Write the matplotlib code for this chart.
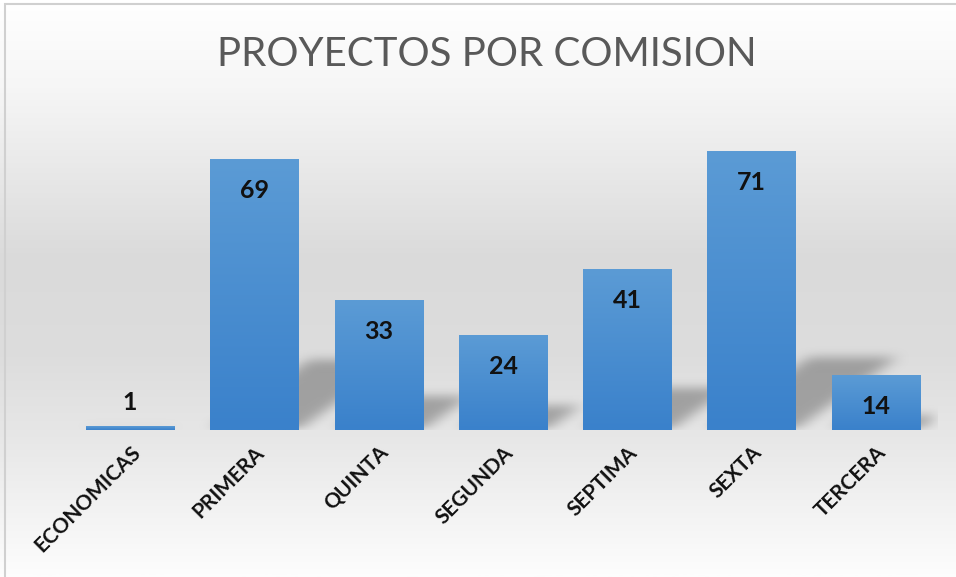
import numpy as np
import matplotlib
matplotlib.use('Agg')
import matplotlib.pyplot as plt
from matplotlib.colors import LinearSegmentedColormap
from matplotlib.patches import Rectangle

# =======================================================================================
# Data
# =======================================================================================

categories = ['ECONOMICAS', 'PRIMERA', 'QUINTA', 'SEGUNDA', 'SEPTIMA', 'SEXTA', 'TERCERA']
values = [1, 69, 33, 24, 41, 71, 14]
title = 'PROYECTOS POR COMISION'

plt.rcParams['font.family'] = ['Lato', 'DejaVu Sans']

W, H = 956, 577
fig = plt.figure(figsize=(W / 100, H / 100), dpi=100)

# =======================================================================================
# Background gradient (whole chart area)
# =======================================================================================

bg = fig.add_axes([0, 0, 1, 1], zorder=0)
bg_cmap = LinearSegmentedColormap.from_list('bg', [
    (0.00, '#ffffff'), (0.15, '#f6f6f6'), (0.45, '#dadada'),
    (0.62, '#dddddd'), (0.76, '#e7e7e7'), (1.00, '#fdfdfd')])
grad = np.linspace(0, 1, 300).reshape(-1, 1)
bg.imshow(grad, cmap=bg_cmap, aspect='auto', extent=[0, 1, 1, 0])
bg.set_xlim(0, 1)
bg.set_ylim(1, 0)
bg.axis('off')
bg.add_patch(Rectangle((5 / W, -0.5), 1.2, 1.5 - 4 / H, fill=False, ec='#d0d0d0', lw=1.5,
                       transform=bg.transAxes, clip_on=False))

# =======================================================================================
# Main axes
# =======================================================================================

ax = fig.add_axes([68 / W, (H - 430) / H, 870 / W, 314 / H], zorder=1)
ax.set_facecolor('none')
ymax = 80
x = np.arange(len(categories))
bw = 0.71

# soft perspective shadows behind the bars
gx = np.linspace(-0.5, len(categories) - 0.5, 900)
gy = np.linspace(0, ymax, 500)
XX, YY = np.meshgrid(gx, gy)
mask = np.zeros_like(XX)
for xi, v in zip(x, values):
    sh = 0.26 * v
    skew = 0.82 * v / 71
    t = YY / max(sh, 1e-6)
    inside = (YY <= sh) & (XX >= xi - bw / 2 + t * skew) & (XX <= xi + bw / 2 + t * skew)
    mask[inside] = 1.0
k = np.ones(15) / 15
for _ in range(3):
    mask = np.apply_along_axis(lambda r: np.convolve(r, k, mode='same'), 1, mask)
    mask = np.apply_along_axis(lambda c: np.convolve(c, k, mode='same'), 0, mask)
shadow = np.zeros(mask.shape + (4,))
shadow[..., :3] = 0.42
shadow[..., 3] = 0.55 * mask
ax.imshow(shadow, extent=[gx[0], gx[-1], 0, ymax], origin='lower', aspect='auto',
          interpolation='bilinear', zorder=1)

# bars with vertical blue gradient
bar_cmap = LinearSegmentedColormap.from_list('bar', ['#3a81cb', '#5b9bd5'])
bars = ax.bar(x, values, width=bw, color='none', zorder=2)
for b in bars:
    ax.imshow(np.linspace(0, 1, 100).reshape(-1, 1), cmap=bar_cmap, origin='lower',
              aspect='auto', extent=[b.get_x(), b.get_x() + b.get_width(), 0, b.get_height()],
              zorder=2)

# data labels (inside end, or above when the bar is too short)
for xi, v in zip(x, values):
    px_h = v * 314 / ymax
    dy = -31 if px_h > 40 else 24
    ax.annotate(str(v), (xi, v), xytext=(0, dy), textcoords='offset pixels',
                ha='center', va='center', fontsize=18, fontweight='bold',
                color='#111111', zorder=3)

ax.set_xlim(-0.5, len(categories) - 0.5)
ax.set_ylim(0, ymax)
ax.set_xticks(x)
ax.set_xticklabels(categories, rotation=45, ha='right', rotation_mode='anchor',
                   fontsize=15, fontweight='bold', color='#111111')
ax.tick_params(axis='x', length=0, pad=9)
ax.set_yticks([])
for s in ax.spines.values():
    s.set_visible(False)

fig.text(487 / W, 1 - 55 / H, title, ha='center', va='center', fontsize=29,
         fontweight='normal', color='#595959')

fig.savefig('out.png', dpi=100)
